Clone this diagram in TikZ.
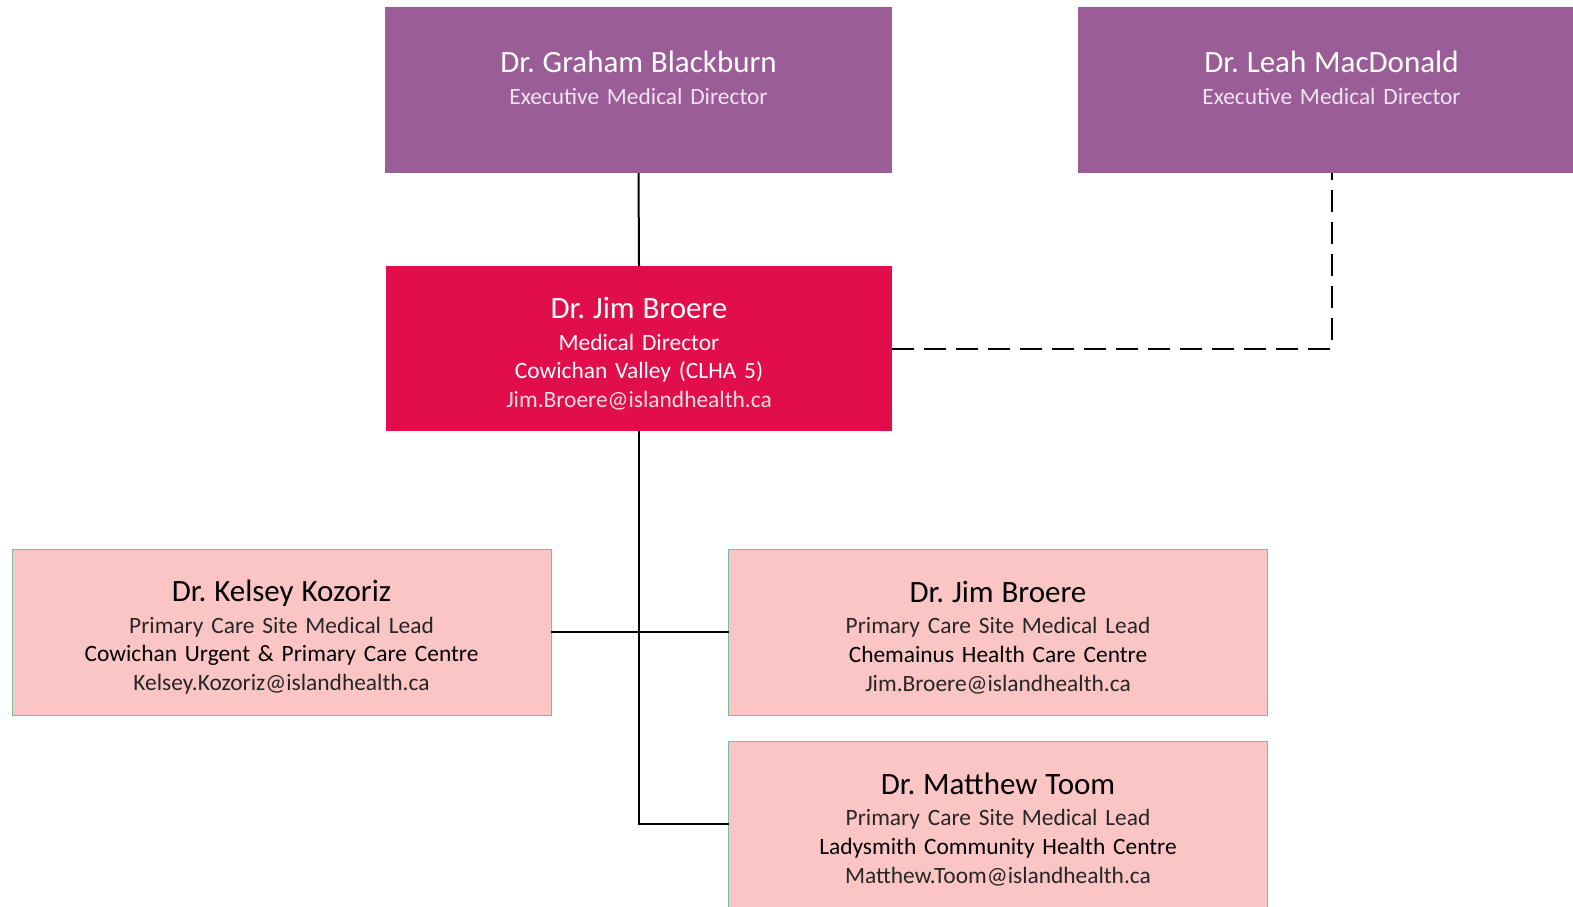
\documentclass[tikz,border=0pt]{standalone}
\usepackage{fontspec}
\setmainfont{Carlito}
\frenchspacing
\usetikzlibrary{positioning}

\definecolor{execpurple}{RGB}{155,93,151}
\definecolor{dirred}{RGB}{226,14,75}
\definecolor{leadpink}{RGB}{251,197,197}
\definecolor{leadedge}{RGB}{118,190,158}
\definecolor{palelilac}{RGB}{242,228,241}
\definecolor{palerose}{RGB}{252,222,230}
\definecolor{softblack}{RGB}{38,38,38}

\newcommand{\namefont}{\fontsize{15.5}{17}\selectfont\rule{0pt}{16pt}}
\newcommand{\subfont}{\fontsize{11.7}{14.3}\selectfont}

\begin{document}
\begin{tikzpicture}[x=0.5pt, y=-0.5pt,
  box/.style={rectangle, inner sep=0pt, outer sep=0pt, align=center,
    font=\subfont},
  exec/.style={box, fill=execpurple, text=white,
    minimum width=253.5pt, minimum height=83pt, text width=250pt},
  director/.style={box, fill=dirred, text=white,
    minimum width=253pt, minimum height=82.5pt, text width=250pt},
  sitelead/.style={box, fill=leadpink, draw=leadedge, line width=0.5pt,
    text=black, minimum width=269.5pt, minimum height=83pt, text width=266pt},
  link/.style={line width=1pt, black},
  dotted link/.style={link, dash pattern=on 11pt off 5pt}
  ]
  %
  \useasboundingbox (0,0) rectangle (1573,906);

  % executive directors
  \node[exec] (graham) at (638.5,90)
    {{\namefont Dr. Graham Blackburn}\\[1.5pt]
     \textcolor{palelilac}{Executive Medical Director}\rule[-17.5pt]{0pt}{0pt}};
  \node[exec] (leah) at (1331.5,90)
    {{\namefont Dr. Leah MacDonald}\\[1.5pt]
     \textcolor{palelilac}{Executive Medical Director}\rule[-17.5pt]{0pt}{0pt}};

  % medical director
  \node[director] (jim) at (639,348.5)
    {{\namefont Dr. Jim Broere}\\[1.5pt]
     Medical Director\\
     Cowichan Valley (CLHA 5)\\
     \textcolor{palerose}{Jim.Broere@islandhealth.ca}};

  % site leads
  \node[sitelead] (kelsey) at (281.5,632)
    {{\namefont Dr. Kelsey Kozoriz}\\[1.5pt]
     \textcolor{softblack}{Primary Care Site Medical Lead}\\
     Cowichan Urgent \& Primary Care Centre\\
     \textcolor{softblack}{Kelsey.Kozoriz@islandhealth.ca}};
  \node[sitelead] (chemainus) at (998,632)
    {{\namefont Dr. Jim Broere}\\[1.5pt]
     \textcolor{softblack}{Primary Care Site Medical Lead}\\
     Chemainus Health Care Centre\\
     \textcolor{softblack}{Jim.Broere@islandhealth.ca}};
  \node[sitelead] (matthew) at (998,824)
    {{\namefont Dr. Matthew Toom}\\[1.5pt]
     \textcolor{softblack}{Primary Care Site Medical Lead}\\
     Ladysmith Community Health Centre\\
     \textcolor{softblack}{Matthew.Toom@islandhealth.ca}};

  \coordinate (bend) at (jim.south |- matthew.west);
  \coordinate (corner) at (leah.south |- jim.east);

  % reporting lines
  \draw[link] (graham.south) -- (jim.north);
  \draw[link] (jim.south) -- (bend) -- (matthew.west);
  \draw[link] (kelsey.east) -- (chemainus.west);
  \draw[dotted link] (jim.east) -- (corner) -- (leah.south);

\end{tikzpicture}
\end{document}
